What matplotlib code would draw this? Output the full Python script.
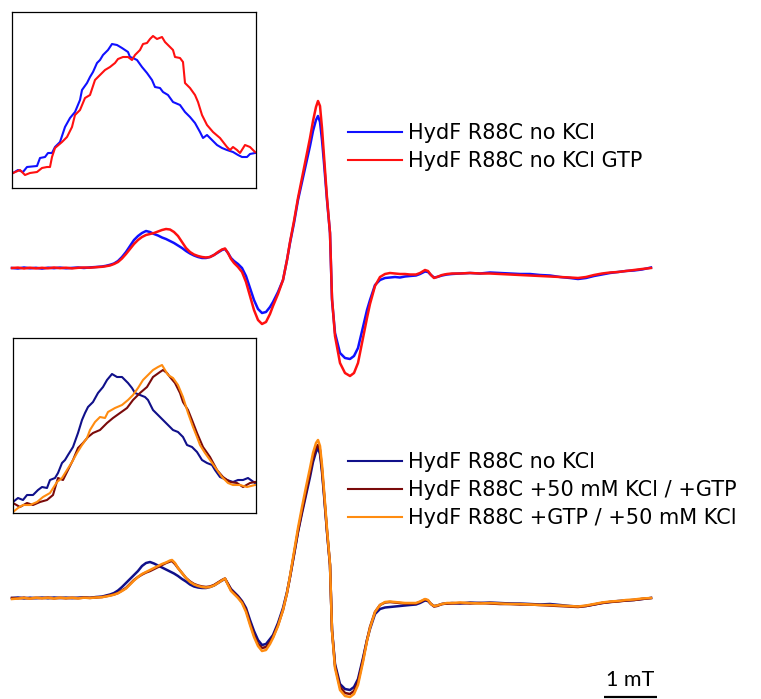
import matplotlib
matplotlib.use("Agg")
import matplotlib.pyplot as plt
from matplotlib.lines import Line2D

# ---------------- data (field in spectrometer channels, 53 ch = 1 mT; intensity a.u.) -------------
blue_top = [(0,0),(6,-0.5),(12,0.5),(18,-0.3),(24,0.2),(30,-0.6),(36,0.3),(42,-0.2),(48,0.4),(54,-0.3),(60,0.1),(66,0.5),(72,0.0),(78,0.6),(84,1.0),(90,1.5),(94,2.2),(98,3.2),(102,4.5),(106,7),(110,11),(114,16),(118,22),(122,28),(126,32),(130,35),(134,37),(138,36),(142,34),(146,32.5),(150,30.5),(154,29),(158,27),(162,25),(166,22.5),(170,20),(174,17),(178,14.5),(182,12.5),(186,11),(190,10),(194,10),(198,11),(202,13),(206,15.5),(210,18),(213,19),(216,15),(219,10),(222,7),(226,4),(230,0),(234,-8),(238,-20),(242,-32),(246,-41),(250,-45),(254,-44),(258,-39),(261,-34),(266,-24),(271,-12),(275,8),(278,25),(282,45),(286,68),(290,86),(294,104),(298,122),(301,137),(304,148),(306,152),(308,146),(310,128),(312,105),(315,68),(318,35),(320,-32),(323,-65),(328,-85),(333,-90),(338,-91),(342,-88),(346,-80),(351,-59),(355,-42),(358,-32),(363,-17),(368,-12),(373,-10),(378,-9.5),(383,-9),(388,-9.5),(393,-8.5),(398,-8),(404,-7.5),(408,-6),(413,-3.5),(416,-4),(419,-7),(422,-9.5),(425,-9),(430,-7.5),(435,-6.5),(440,-6),(448,-5.5),(458,-5),(468,-5.5),(478,-4.5),(488,-5),(498,-5.5),(508,-6),(518,-6),(528,-7),(538,-7.5),(548,-9),(558,-10),(566,-11),(574,-10),(582,-8),(590,-6.5),(598,-5),(606,-4),(614,-3),(622,-2.5),(630,-1.5),(639,0.5)]

red_top = [(0,0),(6,0.4),(12,-0.5),(18,0.3),(24,-0.4),(30,0.2),(36,-0.3),(42,0.5),(48,-0.2),(54,0.3),(60,-0.4),(66,0.2),(72,0.5),(78,0.3),(84,0.8),(90,1.2),(94,1.8),(98,2.5),(102,4),(106,6),(110,9.5),(114,14),(118,19),(122,24),(126,28),(130,31),(134,33),(138,34),(142,35),(146,36.5),(150,38),(154,39),(158,38.5),(162,36),(166,32),(170,26),(174,20),(178,16),(182,13.5),(186,12),(190,11),(194,10.5),(198,11),(202,13),(206,16),(210,18.5),(213,19.5),(216,15),(219,9),(222,5),(226,1),(230,-4),(234,-14),(238,-28),(242,-42),(246,-52),(250,-56),(254,-54),(258,-46),(261,-38),(266,-26),(271,-12),(275,8),(278,26),(282,47),(286,70),(290,90),(294,110),(298,130),(301,147),(304,161),(306,167),(308,162),(310,140),(312,112),(315,70),(318,35),(320,-30),(323,-68),(328,-95),(333,-105),(338,-108),(342,-105),(346,-95),(351,-70),(355,-50),(358,-36),(363,-18),(368,-9),(373,-6),(378,-5),(383,-5.5),(388,-6),(393,-6),(398,-6.5),(404,-6.5),(408,-5),(413,-2),(416,-3),(419,-7),(422,-10),(425,-9),(430,-7),(435,-6),(440,-5.5),(448,-5.5),(458,-5),(468,-5.5),(478,-5.5),(488,-6),(498,-6.5),(508,-7),(518,-7.5),(528,-8),(538,-8.5),(548,-9),(558,-9.5),(566,-10),(574,-9),(582,-7),(590,-5.5),(598,-4.5),(606,-4),(614,-3),(622,-2),(630,-1),(639,0)]

navy_bot = [(0,0),(6,0.5),(12,-0.5),(18,0.3),(24,-0.2),(30,0.4),(36,-0.3),(42,0.5),(48,0),(54,0.4),(60,-0.2),(66,0.3),(72,0.6),(78,0.2),(84,1.0),(90,1.4),(94,2.5),(98,3.5),(102,5),(106,7.5),(110,11),(114,15),(118,19),(122,23),(126,27),(130,32),(134,35),(138,36),(142,34.5),(146,32.5),(150,30.5),(154,28.5),(158,26.5),(162,24.5),(166,22),(170,19),(174,16.5),(178,13.5),(182,11.5),(186,10.5),(190,10),(194,10),(198,11),(202,12.5),(206,15),(210,17.5),(213,19),(216,14),(219,9),(222,6),(226,2),(230,-3),(234,-10),(238,-22),(242,-33),(246,-42),(250,-47),(254,-46),(258,-41),(261,-37),(266,-25),(271,-10),(275,6),(278,21),(282,43),(286,66),(290,85),(294,103),(298,121),(301,136),(304,146),(306,150),(308,144),(310,126),(312,103),(315,66),(318,33),(320,-32),(323,-66),(328,-86),(333,-91),(338,-92),(342,-89),(346,-81),(351,-60),(355,-42),(358,-31),(363,-16),(368,-11),(373,-9.5),(378,-9),(383,-8.5),(388,-8),(393,-7.5),(398,-7),(404,-6.5),(408,-5),(413,-2.5),(416,-3),(419,-6),(422,-8),(425,-7.5),(430,-6),(435,-5.5),(440,-5),(448,-5.5),(458,-4.5),(468,-5),(478,-4.5),(488,-5),(498,-5.5),(508,-5.5),(518,-6),(528,-6.5),(538,-6),(548,-7),(558,-8),(566,-8.5),(574,-8),(582,-6.5),(590,-5),(598,-4),(606,-3),(614,-2.5),(622,-2),(630,-1),(639,0)]

darkred_bot = [(0,0),(6,-0.3),(12,0.4),(18,-0.5),(24,0.2),(30,-0.2),(36,0.5),(42,-0.4),(48,0.2),(54,-0.3),(60,0.3),(66,-0.2),(72,0.4),(78,0.1),(84,0.6),(90,1.0),(94,1.8),(98,2.6),(102,3.6),(106,5),(110,7.5),(114,10),(118,14),(122,18),(126,21),(130,23.5),(134,25.5),(138,27),(142,29),(146,31),(150,33),(154,35),(158,36.5),(160,37),(163,34),(166,30),(170,25),(174,20),(178,16.5),(182,14),(186,12.5),(190,11.5),(194,11),(198,11.5),(202,13),(206,15.5),(210,18),(213,19.5),(216,14),(219,8),(222,5),(226,1),(230,-4),(234,-12),(238,-25),(242,-37),(246,-46),(250,-50),(254,-49),(258,-44),(261,-39),(266,-27),(271,-12),(275,5),(278,21),(282,44),(286,67),(290,87),(294,106),(298,125),(301,140),(304,150),(306,153),(308,148),(310,129),(312,105),(315,67),(318,33),(320,-32),(323,-68),(328,-89),(333,-95),(338,-96),(342,-93),(346,-84),(351,-62),(355,-42),(358,-29),(363,-14),(368,-7),(373,-4.5),(378,-4),(383,-4.5),(388,-5),(393,-5.5),(398,-5.5),(404,-5.5),(408,-4),(413,-1.5),(416,-2.5),(419,-6),(422,-8.5),(425,-8),(430,-6),(435,-5.5),(440,-5.5),(448,-5),(458,-5.5),(468,-5),(478,-5.5),(488,-6),(498,-6),(508,-6.5),(518,-6.5),(528,-7),(538,-7.5),(548,-8),(558,-8.5),(566,-9),(574,-8),(582,-6.5),(590,-5),(598,-4),(606,-3.5),(614,-2.5),(622,-2),(630,-1),(639,0)]

orange_bot = [(0,-1),(6,-0.5),(12,0),(18,-0.6),(24,0.3),(30,-0.3),(36,0.2),(42,-0.5),(48,0.3),(54,-0.2),(60,0.2),(66,-0.4),(72,0.3),(78,0),(84,0.5),(90,0.8),(94,1.5),(98,2.3),(102,3.3),(106,4.8),(110,7),(114,9.5),(118,13.5),(122,17.5),(126,21),(130,24),(134,26),(138,28),(142,30),(146,32),(150,34),(154,35.5),(158,37.5),(160,38),(163,35),(166,30),(170,25),(174,20),(178,16),(182,13.5),(186,12),(190,11),(194,10.5),(198,11),(202,12.5),(206,15),(210,17.5),(213,19.5),(216,13),(219,7),(222,4),(226,0),(230,-5),(234,-14),(238,-27),(242,-39),(246,-48),(250,-53),(254,-52),(258,-46),(261,-40),(266,-28),(271,-12),(275,5),(278,22),(282,46),(286,70),(290,91),(294,111),(298,130),(301,145),(304,155),(306,158),(308,152),(310,133),(312,108),(315,69),(318,34),(320,-33),(323,-70),(328,-92),(333,-98),(338,-99),(342,-96),(346,-87),(351,-64),(355,-43),(358,-30),(363,-14),(368,-7),(373,-4),(378,-3.5),(383,-4),(388,-4.5),(393,-5),(398,-5),(404,-5),(408,-3.5),(413,-1),(416,-2),(419,-6),(422,-8),(425,-7.5),(430,-6),(435,-5),(440,-5),(448,-4.5),(458,-5),(468,-5.5),(478,-5),(488,-5.5),(498,-6),(508,-6),(518,-6.5),(528,-7),(538,-7),(548,-7.5),(558,-8),(566,-8.5),(574,-7.5),(582,-6),(590,-4.5),(598,-3.5),(606,-3),(614,-2),(622,-1.5),(630,-0.5),(639,0)]

# inset traces (zoomed low-field feature, a.u.)
blue_inset = [(1,15),(6,18),(11,16),(15,21),(25,22),(28,30),(33,31),(36,35),(40,35),(43,41),(48,46),(51,55),(53,61),(58,70),(63,76),(68,88),(70,98),(75,105),(78,111),(81,116),(85,125),(88,128),(91,133),(96,138),(100,144),(105,143),(110,140),(113,138),(116,136),(118,131),(121,130),(125,128),(130,121),(135,115),(140,108),(143,101),(148,100),(151,96),(156,93),(161,86),(168,83),(173,76),(178,71),(183,65),(188,56),(191,50),(195,53),(200,48),(205,43),(210,40),(215,38),(221,36),(226,33),(230,31),(235,31),(238,34),(243,35)]
red_inset = [(1,15),(8,18),(13,13),(18,15),(25,16),(30,20),(35,21),(38,21),(40,31),(43,40),(50,46),(55,51),(60,61),(63,73),(68,78),(73,90),(78,93),(83,108),(88,113),(93,118),(98,121),(103,125),(106,129),(111,131),(116,131),(120,128),(123,133),(128,138),(131,144),(135,145),(138,149),(141,152),(145,149),(150,151),(153,146),(158,141),(161,138),(163,131),(168,130),(171,126),(173,105),(178,100),(183,93),(186,86),(190,73),(195,63),(201,56),(208,50),(215,41),(218,38),(221,41),(225,38),(228,35),(233,43),(238,41),(243,36)]

navy_inset = [(0,11),(5,15),(10,13),(14,18),(20,18),(25,23),(29,26),(34,25),(37,33),(42,35),(45,40),(49,50),(52,53),(55,58),(60,66),(65,80),(69,93),(72,100),(75,106),(80,111),(85,120),(90,126),(94,133),(99,139),(104,136),(109,136),(112,133),(115,130),(119,125),(122,120),(127,118),(132,116),(135,113),(140,103),(145,98),(150,93),(155,88),(160,83),(165,81),(170,76),(174,68),(179,66),(184,61),(189,53),(194,50),(199,48),(202,43),(207,36),(214,33),(220,31),(225,33),(230,33),(235,35),(242,30)]
darkred_inset = [(0,10),(7,6),(14,10),(20,8),(27,11),(34,13),(40,18),(45,35),(50,33),(55,43),(60,53),(65,65),(70,70),(75,76),(80,80),(87,83),(94,90),(100,95),(107,100),(114,105),(120,113),(127,120),(134,126),(140,136),(147,141),(150,143),(154,140),(157,136),(162,130),(167,120),(170,111),(175,103),(179,93),(184,80),(190,66),(197,56),(204,43),(210,36),(217,31),(224,30),(230,26),(237,30),(242,31)]
orange_inset = [(0,1),(5,5),(10,8),(17,8),(24,11),(30,16),(37,20),(44,31),(49,35),(54,43),(59,51),(64,60),(69,68),(74,75),(77,83),(82,91),(87,96),(92,95),(95,101),(102,105),(109,108),(115,113),(120,118),(125,125),(130,133),(135,138),(140,143),(145,146),(149,148),(152,143),(155,138),(160,135),(165,128),(170,116),(175,100),(180,86),(184,76),(187,68),(192,60),(197,53),(204,43),(209,36),(215,30),(220,28),(227,28),(234,26),(242,28)]

labels_top = ["HydF R88C no KCl", "HydF R88C no KCl GTP"]
labels_bot = ["HydF R88C no KCl", "HydF R88C +50 mM KCl / +GTP", "HydF R88C +GTP / +50 mM KCl"]
colors_top = ["#1010ff", "#ff1010"]
colors_bot = ["#10108a", "#7a0a0a", "#ff8c10"]
top_offset = 330          # vertical stacking offset of the upper spectra
scale_ch = 53             # channels per mT
scale_label = "1 mT"


def xy(pairs):
    return [p[0] for p in pairs], [p[1] for p in pairs]


W, H = 761, 699
fig = plt.figure(figsize=(W / 100, H / 100), dpi=100)
ax = fig.add_axes([0, 0, 1, 1])
ax.set_xlim(-12, 749)
ax.set_ylim(-101, 598)
ax.axis("off")

lw = 1.8
for tr, c, lab in zip([blue_top, red_top], colors_top, labels_top):
    x, y = xy(tr)
    ax.plot(x, [v + top_offset for v in y], color=c, lw=lw, label=lab)

for tr, c, lab in zip([navy_bot, darkred_bot, orange_bot], colors_bot, labels_bot):
    x, y = xy(tr)
    ax.plot(x, y, color=c, lw=lw, label=lab)

legprops = dict(family="DejaVu Sans", size=15)
common = dict(loc="upper left", frameon=False, borderpad=0, borderaxespad=0,
              handlelength=2.6, handletextpad=0.3, labelspacing=0.38, prop=legprops)
leg1 = ax.legend([Line2D([], [], color=c, lw=1.5) for c in colors_top], labels_top,
                 bbox_to_anchor=(348 / W, 1 - 123 / H), **common)
ax.add_artist(leg1)
leg2 = ax.legend([Line2D([], [], color=c, lw=1.5) for c in colors_bot], labels_bot,
                 bbox_to_anchor=(348 / W, 1 - 452 / H), **common)

# scale bar
x0 = 592
ax.plot([x0, x0 + scale_ch], [-99, -99], color="black", lw=1.6, solid_capstyle="butt")
ax.text(x0 + scale_ch / 2, -88, scale_label, ha="center", va="baseline",
        fontsize=15.5, family="Lato")

# insets
ins1 = fig.add_axes([12 / W, 1 - 188 / H, 244 / W, 176 / H])
for tr, c in zip([blue_inset, red_inset], colors_top):
    x, y = xy(tr)
    ins1.plot(x, y, color=c, lw=1.5)
ins1.set_xlim(0, 244)
ins1.set_ylim(0, 176)

ins2 = fig.add_axes([13 / W, 1 - 513 / H, 243 / W, 175 / H])
for tr, c in zip([navy_inset, darkred_inset, orange_inset], colors_bot):
    x, y = xy(tr)
    ins2.plot(x, y, color=c, lw=1.5)
ins2.set_xlim(0, 243)
ins2.set_ylim(0, 175)

for a in (ins1, ins2):
    a.set_xticks([])
    a.set_yticks([])
    for s in a.spines.values():
        s.set_linewidth(0.9)
        s.set_color("black")

fig.savefig("out.png", dpi=100)
